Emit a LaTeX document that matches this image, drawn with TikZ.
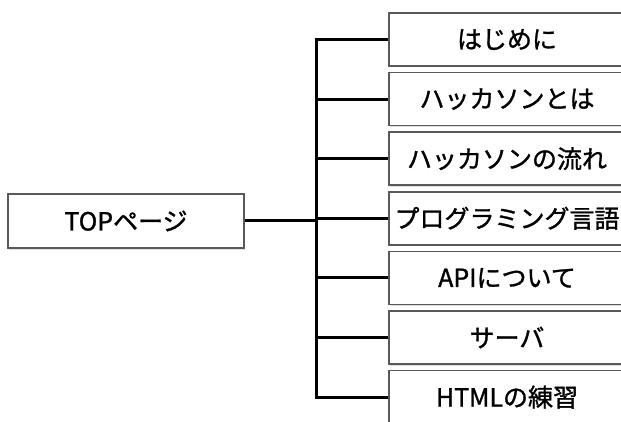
\documentclass[tikz,border=0pt]{standalone}
\usepackage{fontspec}
\newfontfamily\jp[FakeBold=1.2]{Noto Sans CJK JP}
\usetikzlibrary{shadows}
\begin{document}
\begin{tikzpicture}[x=1pt,y=-1pt,
  box/.style={draw=black!65, line width=1.5pt, fill=white, minimum width=236pt, minimum height=53pt,
    inner sep=0pt, font=\jp\fontsize{25}{30}\selectfont,
    drop shadow={shadow xshift=1pt, shadow yshift=-1.5pt, opacity=0.25}},
  conn/.style={draw=black, line width=3pt, line cap=rect}]
\useasboundingbox (0,0) rectangle (621,422);
\clip (0,0) rectangle (621,422);
\node[box, minimum height=54pt] (top) at (126,221) {TOPページ};
\node[box] (b1) at (507,39.5) {はじめに};
\node[box] (b2) at (507,99.1) {ハッカソンとは};
\node[box] (b3) at (507,158.7) {ハッカソンの流れ};
\node[box] (b4) at (507,218.3) {プログラミング言語};
\node[box] (b5) at (507,277.9) {APIについて};
\node[box] (b6) at (507,337.5) {サーバ};
\node[box] (b7) at (507,397.1) {HTMLの練習};
\coordinate (t1) at (316,39.5);
\coordinate (t2) at (316,99.1);
\coordinate (t3) at (316,158.7);
\coordinate (t4) at (316,218.3);
\coordinate (t5) at (316,277.9);
\coordinate (t6) at (316,337.5);
\coordinate (t7) at (316,397.1);
\draw[conn] (t1) -- (t7);
\foreach \i in {1,...,7}{\draw[conn, line cap=butt] (t\i) -- (b\i.west);}
\draw[conn, line cap=butt] (top.east) -- (top.east -| t1);
\end{tikzpicture}
\end{document}
